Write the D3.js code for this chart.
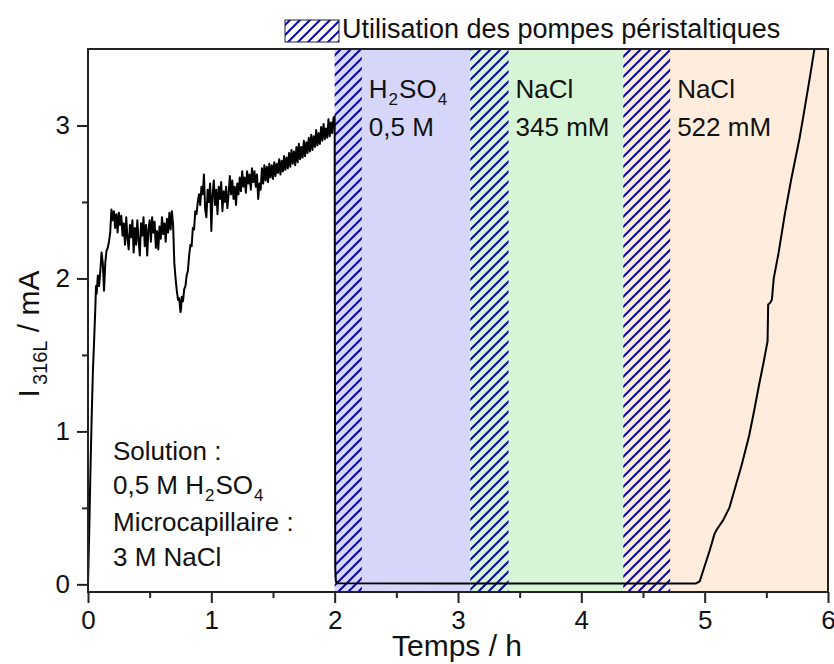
<!DOCTYPE html>
<html>
<head>
<meta charset="utf-8">
<script src="https://cdn.jsdelivr.net/npm/d3@7/dist/d3.min.js"></script>
<style>
  html, body { margin: 0; padding: 0; background: #fff; }
  svg { display: block; }
  text { font-family: "Liberation Sans", Arial, sans-serif; fill: #111; }
</style>
</head>
<body>
<svg id="chart" width="834" height="664"></svg>
<script>
// ---------- DATA ----------
const xTicks = [0, 1, 2, 3, 4, 5, 6];
const xMinorTicks = [0.5, 1.5, 2.5, 3.5, 4.5, 5.5];
const yTicks = [0, 1, 2, 3];
const yMinorTicks = [0.5, 1.5, 2.5];

// solution bands (time in h)
const bandStart = [2.0, 3.1, 4.34];
const bandEnd   = [3.1, 4.34, 6.0];
const bandName  = ["H2SO4", "NaCl", "NaCl"];
const bandConc  = ["0,5 M", "345 mM", "522 mM"];

// peristaltic pump use (time in h)
const pumpStart = [2.0, 3.1, 4.34];
const pumpEnd   = [2.22, 3.41, 4.72];

const legendLabel = "Utilisation des pompes péristaltiques";

// current trace (time h, current mA)
const trace = [
  [0,0],[0.01,0.35],[0.02,0.75],[0.03,1.1],[0.04,1.4],[0.05,1.6],[0.06,1.82],[0.065,1.95],[0.07,1.9],
  [0.08,2.02],[0.09,1.95],[0.1,2.05],[0.11,2.17],[0.12,2.1],[0.13,1.92],[0.14,2.1],[0.15,2.18],
  [0.16,2.2],[0.17,2.24],[0.18,2.3],[0.19,2.45],
  [0.20,2.38],[0.21,2.44],[0.22,2.33],[0.23,2.42],[0.24,2.30],[0.25,2.43],[0.26,2.35],[0.27,2.41],
  [0.28,2.28],[0.29,2.36],[0.30,2.22],[0.31,2.40],[0.32,2.26],[0.33,2.19],[0.34,2.35],[0.35,2.27],
  [0.36,2.38],[0.37,2.17],[0.38,2.33],[0.39,2.22],[0.40,2.38],[0.41,2.25],[0.42,2.15],[0.43,2.36],
  [0.44,2.28],[0.45,2.40],[0.46,2.21],[0.47,2.35],[0.48,2.15],[0.49,2.32],[0.50,2.38],[0.51,2.24],
  [0.52,2.40],[0.53,2.30],[0.54,2.37],[0.55,2.20],[0.56,2.31],[0.57,2.19],[0.58,2.34],[0.59,2.26],
  [0.60,2.40],[0.61,2.29],[0.62,2.36],[0.63,2.24],[0.64,2.39],[0.65,2.30],[0.66,2.43],[0.67,2.32],
  [0.68,2.44],[0.69,2.35],
  [0.70,2.10],[0.71,2.00],[0.72,1.92],[0.73,1.86],[0.74,1.87],[0.745,1.82],[0.75,1.78],[0.755,1.80],
  [0.76,1.88],[0.77,1.85],[0.78,1.93],[0.79,1.95],[0.80,2.02],[0.81,2.05],[0.82,2.15],[0.83,2.22],
  [0.84,2.21],[0.85,2.33],[0.86,2.32],[0.87,2.44],[0.88,2.42],[0.89,2.50],
  [0.90,2.55],[0.91,2.48],[0.92,2.60],[0.93,2.55],[0.94,2.68],[0.95,2.45],[0.96,2.40],[0.97,2.58],
  [0.98,2.50],[0.99,2.62],[1.00,2.31],[1.01,2.55],[1.02,2.64],[1.03,2.48],[1.04,2.58],[1.05,2.42],
  [1.06,2.60],[1.07,2.52],[1.08,2.63],[1.09,2.44],[1.10,2.57],[1.11,2.50],[1.12,2.60],[1.13,2.46],
  [1.14,2.55],[1.15,2.67],[1.16,2.55],[1.17,2.64],[1.18,2.52],[1.19,2.60],[1.20,2.48],[1.21,2.62],
  [1.22,2.55],[1.23,2.66],[1.24,2.57],[1.25,2.70],[1.26,2.60],[1.27,2.66],[1.28,2.56],[1.29,2.70],
  [1.30,2.62],[1.31,2.68],[1.32,2.58],[1.33,2.72],[1.34,2.63],[1.35,2.70],[1.36,2.60],[1.37,2.68],
  [1.38,2.52],[1.39,2.62],[1.40,2.58],[1.41,2.72],[1.42,2.62],[1.43,2.74],[1.44,2.64],[1.45,2.73],
  [1.46,2.63],[1.47,2.75],[1.48,2.66],[1.49,2.74],[1.50,2.65],[1.51,2.76],[1.52,2.67],[1.53,2.75],
  [1.54,2.69],[1.55,2.78],[1.56,2.68],[1.57,2.77],[1.58,2.70],[1.59,2.80],[1.60,2.71],[1.61,2.79],
  [1.62,2.72],[1.63,2.82],[1.64,2.73],[1.65,2.84],[1.66,2.75],[1.67,2.83],[1.68,2.74],[1.69,2.86],
  [1.70,2.76],[1.71,2.88],[1.72,2.78],[1.73,2.86],[1.74,2.79],[1.75,2.90],[1.76,2.80],[1.77,2.89],
  [1.78,2.82],[1.79,2.92],[1.80,2.83],[1.81,2.94],[1.82,2.84],[1.83,2.93],[1.84,2.86],[1.85,2.97],
  [1.86,2.87],[1.87,2.95],[1.88,2.88],[1.89,2.99],[1.90,2.90],[1.91,3.01],[1.92,2.91],[1.93,2.98],
  [1.94,2.92],[1.95,3.04],[1.96,2.93],[1.97,3.02],[1.98,2.95],[1.99,3.05],[2.00,3.06],
  [2.002,1.5],[2.005,0.1],[2.01,0.02],[2.02,0.007],[3.0,0.006],[4.0,0.006],[4.93,0.006],
  [4.96,0.02],[5.0,0.12],[5.04,0.22],[5.08,0.33],[5.1,0.36],[5.15,0.42],[5.2,0.5],[5.25,0.64],
  [5.3,0.78],[5.36,0.97],[5.4,1.13],[5.44,1.3],[5.48,1.46],[5.51,1.59],[5.515,1.83],[5.53,1.84],
  [5.545,1.86],[5.56,2.0],[5.6,2.17],[5.65,2.42],[5.7,2.64],[5.77,2.92],[5.8,3.06],[5.85,3.3],[5.9,3.55]
];

// ---------- LAYOUT / STYLE ----------
const plot = { left: 88, right: 828, top: 49, bottom: 592 };
const bandColors = ["#d6d6fb", "#d6f5d6", "#feecdc"];
const hatchColor = "#0808a8";
const fontSize = 26, subSize = 17, titleSize = 30, titleSub = 20;

const svg = d3.select("#chart");
const x = d3.scaleLinear().domain([0, 6]).range([plot.left, plot.right]);
const y = d3.scaleLinear().domain([-0.05, 3.5]).range([plot.bottom, plot.top]);

const defs = svg.append("defs");
const pat = defs.append("pattern")
  .attr("id", "hatch").attr("patternUnits", "userSpaceOnUse")
  .attr("width", 10).attr("height", 10);
pat.append("path")
  .attr("d", "M0,10 L10,0 M-2,2 L2,-2 M8,12 L12,8")
  .attr("stroke", hatchColor).attr("stroke-width", 2).attr("fill", "none");
defs.append("clipPath").attr("id", "clip").append("rect")
  .attr("x", plot.left).attr("y", plot.top)
  .attr("width", plot.right - plot.left).attr("height", plot.bottom - plot.top);

const bands = bandStart.map((s, i) => ({ s, e: bandEnd[i], name: bandName[i], conc: bandConc[i], i }));
const pumps = pumpStart.map((s, i) => ({ s, e: pumpEnd[i] }));

const g = svg.append("g").attr("clip-path", "url(#clip)");
g.selectAll("rect.band").data(bands).join("rect")
  .attr("x", d => x(d.s)).attr("width", d => x(d.e) - x(d.s))
  .attr("y", plot.top).attr("height", plot.bottom - plot.top)
  .attr("fill", d => bandColors[d.i]);
g.selectAll("rect.pump").data(pumps).join("rect")
  .attr("x", d => x(d.s)).attr("width", d => x(d.e) - x(d.s))
  .attr("y", plot.top).attr("height", plot.bottom - plot.top)
  .attr("fill", "url(#hatch)");

const line = d3.line().x(d => x(d[0])).y(d => y(d[1]));
g.append("path").datum(trace)
  .attr("d", line).attr("fill", "none")
  .attr("stroke", "#000").attr("stroke-width", 2)
  .attr("stroke-linejoin", "round");

// frame
svg.append("rect")
  .attr("x", plot.left).attr("y", plot.top)
  .attr("width", plot.right - plot.left).attr("height", plot.bottom - plot.top)
  .attr("fill", "none").attr("stroke", "#222").attr("stroke-width", 2);

// axes
function styleAxis(sel) {
  sel.select(".domain").remove();
  sel.selectAll(".tick line").attr("stroke", "#222").attr("stroke-width", 2);
  sel.selectAll(".tick text").attr("font-size", fontSize)
    .attr("font-family", '"Liberation Sans", Arial, sans-serif').attr("fill", "#111");
}
svg.append("g").attr("transform", `translate(0,${plot.bottom})`)
  .call(d3.axisBottom(x).tickValues(xTicks).tickFormat(d3.format("d")).tickSize(11).tickPadding(8))
  .call(styleAxis);
svg.append("g").attr("transform", `translate(0,${plot.bottom})`)
  .call(d3.axisBottom(x).tickValues(xMinorTicks).tickFormat("").tickSize(6))
  .call(styleAxis);
svg.append("g").attr("transform", `translate(${plot.left},0)`)
  .call(d3.axisLeft(y).tickValues(yTicks).tickFormat(d3.format("d")).tickSize(11).tickPadding(7))
  .call(styleAxis);
svg.append("g").attr("transform", `translate(${plot.left},0)`)
  .call(d3.axisLeft(y).tickValues(yMinorTicks).tickFormat("").tickSize(6))
  .call(styleAxis);

// axis titles
svg.append("text").attr("x", 457).attr("y", 656)
  .attr("text-anchor", "middle").attr("font-size", titleSize).text("Temps / h");

const yt = svg.append("text").attr("transform", "translate(39,334) rotate(-90)")
  .attr("text-anchor", "middle").attr("font-size", titleSize);
yt.append("tspan").text("I");
yt.append("tspan").attr("font-size", titleSub).attr("dy", 8).attr("dx", 4).text("316L");
yt.append("tspan").attr("dy", -8).text(" / mA");

// chemical formula helper
function formula(sel, str) {
  const parts = str.match(/[A-Za-z]+|\d+/g);
  let shifted = false;
  parts.forEach(p => {
    const isNum = /^\d+$/.test(p);
    const t = sel.append("tspan").text(p);
    if (isNum && !shifted) { t.attr("font-size", subSize).attr("dy", 7).attr("dx", 1); shifted = true; }
    else if (!isNum && shifted) { t.attr("dy", -7).attr("dx", 1); shifted = false; }
    else if (isNum) { t.attr("font-size", subSize).attr("dx", 1); }
  });
  if (shifted) sel.append("tspan").attr("dy", -7).text("");
}

// band labels
bands.forEach(d => {
  const tx = x(pumpEnd[d.i]) + 7;
  const t1 = svg.append("text").attr("x", tx).attr("y", 98).attr("font-size", fontSize);
  formula(t1, d.name);
  svg.append("text").attr("x", tx).attr("y", 136).attr("font-size", fontSize).text(d.conc);
});

// bottom-left note
const noteX = 113;
svg.append("text").attr("x", noteX).attr("y", 460).attr("font-size", fontSize).text("Solution :");
const n2 = svg.append("text").attr("x", noteX).attr("y", 494).attr("font-size", fontSize);
n2.append("tspan").text("0,5 M ");
formula(n2, "H2SO4");
svg.append("text").attr("x", noteX).attr("y", 531).attr("font-size", fontSize).text("Microcapillaire :");
svg.append("text").attr("x", noteX).attr("y", 566).attr("font-size", fontSize).text("3 M NaCl");

// legend
svg.append("rect").attr("x", 285).attr("y", 20).attr("width", 54).attr("height", 22)
  .attr("fill", "#fff");
svg.append("rect").attr("x", 285).attr("y", 20).attr("width", 54).attr("height", 22)
  .attr("fill", "url(#hatch)").attr("stroke", "#223").attr("stroke-width", 1);
svg.append("text").attr("x", 342).attr("y", 38).attr("font-size", 27).text(legendLabel);
</script>
</body>
</html>
